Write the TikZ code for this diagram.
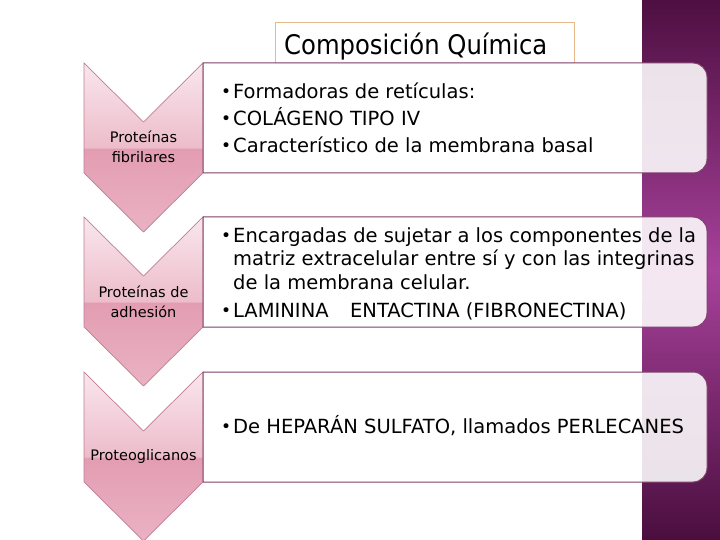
\documentclass[tikz,border=0pt]{standalone}
\usepackage{fontspec}
\setmainfont{DejaVu Sans}
\newfontfamily\condfont{DejaVu Sans Condensed}
\definecolor{bandtop}{HTML}{4E0F41}
\definecolor{bandmid}{HTML}{A7419B}
\definecolor{bandbot}{HTML}{4A0E3E}
\definecolor{boxline}{HTML}{7F3F6A}
\definecolor{titleline}{HTML}{E9B98A}
\definecolor{chevline}{HTML}{BF7D98}
\definecolor{chT}{HTML}{F9E6ED}
\definecolor{chM}{HTML}{EDBCCB}
\definecolor{chC}{HTML}{E39DB2}
\definecolor{chB}{HTML}{EAB2C3}
\pgfdeclareverticalshading{chevshade}{100bp}{color(0bp)=(chB); color(25bp)=(chB); color(49.6bp)=(chC); color(50bp)=(chM); color(75bp)=(chT); color(100bp)=(chT)}
\newcommand{\chevpath}[1]{(84,#1) -- (143.5,#1+59) -- (203,#1) -- (203,#1+110) -- (143.5,#1+169) -- (84,#1+110) -- cycle}
\newcommand{\boxpath}[1]{(203,#1) -- (693,#1) .. controls (700.73,#1) and (707,#1+6.27) .. (707,#1+14) -- (707,#1+96) .. controls (707,#1+103.73) and (700.73,#1+110) .. (693,#1+110) -- (203,#1+110) -- cycle}
\tikzset{
  chev/.style={shading=chevshade, draw=chevline, line width=0.7pt},
  itembox/.style={fill=white, fill opacity=0.88, draw=boxline, line width=1pt},
  chevtext/.style={align=center, font=\fontsize{14.5}{19.5}\selectfont, text=black, inner sep=0pt},
  body/.style={anchor=base west, inner sep=0pt, font=\fontsize{19.5}{22}\selectfont},
  bul/.style={anchor=base west, inner sep=0pt, font=\fontsize{17}{22}\selectfont},
}
\begin{document}
\begin{tikzpicture}[x=1pt,y=-1pt]
\useasboundingbox (0,0) rectangle (720,540);
\fill[white] (0,0) rectangle (720,540);
\shade[top color=bandtop, bottom color=bandbot, middle color=bandmid] (642,0) rectangle (720,540);
% title
\draw[titleline, line width=0.8pt, fill=white] (275,22) rectangle (574,63);
\node[anchor=base west, inner sep=0pt, font=\condfont\fontsize{27}{30}\selectfont] (title) at (284,55) {Composición Química};
% chevrons
\path[chev] \chevpath{63};
\path[chev] \chevpath{217};
\path[chev] \chevpath{372};
\node[chevtext] (c1) at (143.5,147) {Proteínas\\fibrilares};
\node[chevtext] (c2) at (143.5,302) {Proteínas de\\adhesión};
\node[chevtext] (c3) at (143.5,456) {Proteoglicanos};
% boxes
\path[itembox] \boxpath{63};
\path[itembox] \boxpath{217};
\path[itembox] \boxpath{372};
% box 1
\node[bul] (p1) at (221,98) {•};
\node[body] (t1) at (233,99) {Formadoras de retículas:};
\node[bul] (p2) at (221,125) {•};
\node[body] (t2) at (233,126) {COLÁGENO TIPO IV};
\node[bul] (p3) at (221,152) {•};
\node[body] (t3) at (233,153) {Característico de la membrana basal};
% box 2
\node[bul] (p4) at (221,241) {•};
\node[body] (t4) at (233,242) {Encargadas de sujetar a los componentes de la};
\node[body] (t5) at (233,265) {matriz extracelular entre sí y con las integrinas};
\node[body] (t6) at (233,289) {de la membrana celular.};
\node[bul] (p5) at (221,316) {•};
\node[body] (t7) at (233,317) {LAMININA\hspace{1.1em}ENTACTINA (FIBRONECTINA)};
% box 3
\node[bul] (p6) at (221,432) {•};
\node[body] (t8) at (233,433) {De HEPARÁN SULFATO, llamados PERLECANES};
\end{tikzpicture}
\end{document}
